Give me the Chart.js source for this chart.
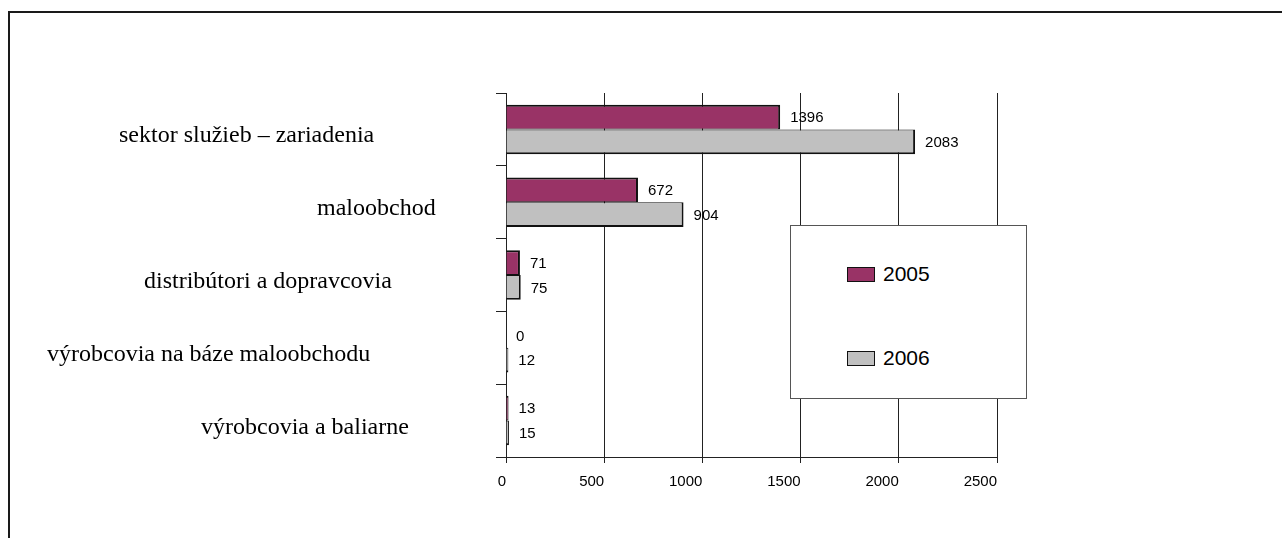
<!DOCTYPE html>
<html lang="sk">
<head>
<meta charset="UTF-8">
<title>Počet subjektov</title>
<script src="https://cdn.jsdelivr.net/npm/chart.js"></script>
<style>
    body {
        margin: 0;
        width: 1282px;
        height: 538px;
        overflow: hidden;
        background: #fff;
        position: relative;
    }
    .frame {
        position: absolute;
        left: 8px;
        top: 11px;
        width: 1400px;
        height: 700px;
        border: 2px solid #1a1a1a;
    }
    #chart {
        position: absolute;
        left: 0;
        top: 0;
    }
    .legend {
        position: absolute;
        left: 790px;
        top: 225px;
        width: 235px;
        height: 172px;
        border: 1px solid #555;
        background: #fff;
        font-family: "Liberation Sans", Arial, sans-serif;
        font-size: 21px;
    }
    .legend-item {
        position: absolute;
        left: 56px;
        display: flex;
        align-items: center;
    }
    .legend-item span.box {
        width: 26px;
        height: 13px;
        border: 1.5px solid #111;
        margin-right: 8px;
    }
</style>
</head>
<body>
<div class="frame"></div>
<canvas id="chart" width="1282" height="538"></canvas>
<div class="legend" id="legend"></div>

<script>
    const categories = [
        'sektor služieb – zariadenia',
        'maloobchod',
        'distribútori a dopravcovia',
        'výrobcovia na báze maloobchodu',
        'výrobcovia a baliarne'
    ];
    const years = ['2005', '2006'];
    const values2005 = [1396, 672, 71, 0, 13];
    const values2006 = [2083, 904, 75, 12, 15];
    const xTicks = [0, 500, 1000, 1500, 2000, 2500];

    // left edge of each category label (they are not aligned to the axis)
    const labelLeft = [119, 317, 144, 47, 201];

    const colors = ['#993366', '#c0c0c0'];

    // category names drawn left of the plot
    const categoryLabels = {
        id: 'categoryLabels',
        afterDraw(chart) {
            const ctx = chart.ctx;
            const y = chart.scales.y;
            ctx.save();
            ctx.font = '24px "Liberation Serif", "Times New Roman", serif';
            ctx.fillStyle = '#000';
            ctx.textAlign = 'left';
            ctx.textBaseline = 'alphabetic';
            categories.forEach((name, i) => {
                ctx.fillText(name, labelLeft[i], y.getPixelForValue(i) + 13);
            });
            ctx.restore();
        }
    };

    // value printed to the right of every bar
    const valueLabels = {
        id: 'valueLabels',
        afterDatasetsDraw(chart) {
            const ctx = chart.ctx;
            ctx.save();
            ctx.font = '15px "Liberation Sans", Arial, sans-serif';
            ctx.fillStyle = '#000';
            ctx.textAlign = 'left';
            ctx.textBaseline = 'middle';
            chart.data.datasets.forEach((ds, di) => {
                chart.getDatasetMeta(di).data.forEach((bar, i) => {
                    ctx.fillText(String(ds.data[i]), bar.x + 10, bar.y + 1);
                });
            });
            ctx.restore();
        }
    };

    const chart = new Chart(document.getElementById('chart'), {
        type: 'bar',
        data: {
            labels: categories,
            datasets: [
                {
                    label: years[0],
                    data: values2005,
                    backgroundColor: colors[0],
                    borderColor: '#111',
                    borderWidth: { top: 2, right: 2, bottom: 1, left: 0 },
                    borderSkipped: 'start'
                },
                {
                    label: years[1],
                    data: values2006,
                    backgroundColor: colors[1],
                    borderColor: '#111',
                    borderWidth: { top: 1, right: 2, bottom: 2, left: 0 },
                    borderSkipped: 'start'
                }
            ]
        },
        options: {
            indexAxis: 'y',
            responsive: false,
            animation: false,
            categoryPercentage: 0.68,
            barPercentage: 1.0,
            layout: {
                padding: { top: 93, right: 285, bottom: 0, left: 0 }
            },
            plugins: {
                legend: { display: false },
                tooltip: { enabled: false }
            },
            scales: {
                x: {
                    min: 0,
                    max: 2500,
                    afterBuildTicks(scale) {
                        scale.ticks = xTicks.map(v => ({ value: v }));
                    },
                    afterFit(scale) {
                        scale.height = 81;
                    },
                    grid: {
                        color: '#222',
                        lineWidth: 1,
                        tickLength: 6
                    },
                    border: { color: '#222', width: 1 },
                    ticks: {
                        align: 'end',
                        padding: 10,
                        color: '#000',
                        font: { family: '"Liberation Sans", Arial, sans-serif', size: 15 },
                        callback: v => String(v)
                    }
                },
                y: {
                    afterFit(scale) {
                        scale.width = 506;
                    },
                    grid: {
                        drawOnChartArea: false,
                        offset: true,
                        color: '#222',
                        tickLength: 10
                    },
                    border: { color: '#222', width: 1 },
                    ticks: { display: false }
                }
            }
        },
        plugins: [categoryLabels, valueLabels]
    });

    // legend box built from the datasets
    const legend = document.getElementById('legend');
    const itemTops = [36, 120];
    chart.data.datasets.forEach((ds, i) => {
        const item = document.createElement('div');
        item.className = 'legend-item';
        item.style.top = itemTops[i] + 'px';
        const box = document.createElement('span');
        box.className = 'box';
        box.style.background = ds.backgroundColor;
        const text = document.createElement('span');
        text.textContent = ds.label;
        item.appendChild(box);
        item.appendChild(text);
        legend.appendChild(item);
    });
</script>
</body>
</html>
